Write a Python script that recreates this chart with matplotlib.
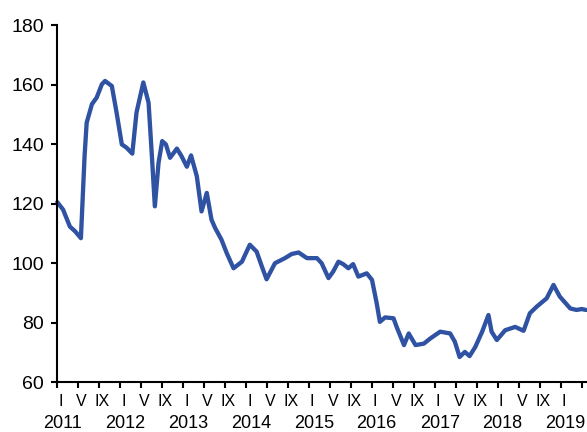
import matplotlib
matplotlib.use("Agg")
import matplotlib.pyplot as plt
from matplotlib.ticker import FixedLocator, NullFormatter

plt.rcParams['font.family'] = ['Liberation Sans', 'DejaVu Sans']

# Time position in months since January 2011, and index value
months = [0.0, 1.1, 2.4, 3.4, 4.5, 5.2, 5.6, 6.6, 7.5, 8.5, 9.1, 10.4, 11.3, 12.3,
          13.2, 14.3, 15.1, 16.4, 17.4, 18.0, 18.6, 19.3, 20.0, 20.7, 21.5, 22.8,
          23.7, 24.7, 25.5, 26.6, 27.5, 28.5, 29.4, 30.1, 31.3, 32.3, 33.6, 35.2,
          36.7, 38.0, 39.0, 39.9, 41.5, 43.4, 44.7, 46.0, 47.6, 49.5, 50.4, 51.7,
          52.6, 53.6, 54.5, 55.5, 56.4, 57.4, 59.0, 60.0, 60.9, 61.5, 62.5, 64.1,
          64.7, 65.3, 66.1, 67.0, 68.3, 69.9, 71.1, 72.0, 73.0, 74.9, 75.8, 76.7,
          77.7, 78.6, 79.7, 81.0, 82.2, 82.8, 83.8, 85.4, 87.3, 88.9, 90.1, 91.4,
          93.3, 94.6, 95.8, 97.8, 99.0, 100.0, 100.8]
values = [120.5, 118.0, 112.3, 110.7, 108.4, 136.0, 147.2, 153.4, 155.6, 160.1, 161.2,
          159.5, 150.6, 139.9, 138.8, 136.8, 150.6, 160.7, 153.9, 137.0, 119.1, 133.7,
          141.0, 139.9, 135.4, 138.5, 135.9, 132.4, 136.2, 129.2, 117.4, 123.6, 114.6,
          111.8, 107.9, 103.4, 98.3, 100.5, 106.2, 103.9, 98.9, 94.6, 100.0, 101.7,
          103.1, 103.6, 101.7, 101.7, 100.0, 95.0, 97.2, 100.5, 99.7, 98.3, 99.7,
          95.5, 96.6, 94.4, 86.5, 80.3, 81.8, 81.5, 78.6, 76.0, 72.5, 76.4, 72.5,
          73.0, 74.7, 75.8, 77.0, 76.4, 73.6, 68.5, 70.2, 68.8, 71.9, 77.0, 82.6,
          77.0, 74.2, 77.5, 78.6, 77.3, 83.2, 85.4, 88.2, 92.7, 88.8, 84.8, 84.3,
          84.6, 84.3]

month_labels = ['I', 'V', 'IX']
years = ['2011', '2012', '2013', '2014', '2015', '2016', '2017', '2018', '2019']
y_ticks = [60, 80, 100, 120, 140, 160, 180]

line_color = '#2F52A3'

fig = plt.figure(figsize=(5.87, 4.32), dpi=100)
ax_h_px = 382.3 - 25
ax = fig.add_axes([57.3 / 587, (432 - 382.3) / 432, (586 - 57.3) / 587, ax_h_px / 432])

ax.plot(months, values, color=line_color, linewidth=3.1, solid_joinstyle='round',
        solid_capstyle='round', clip_on=False)

ax.set_ylim(60, 180)
ax.set_xlim(0, 100.8)
ax.set_yticks(y_ticks)
ax.set_yticklabels([str(v) for v in y_ticks])

# major ticks every 4 months (no labels)
tick_pos = list(range(0, 101, 4))
ax.xaxis.set_major_locator(FixedLocator(tick_pos))
ax.xaxis.set_major_formatter(NullFormatter())
ax.tick_params(axis='x', which='major', length=4.2, width=1.5, direction='out')
ax.tick_params(axis='y', length=4.2, width=1.5, direction='out', labelsize=14, pad=5.5)

trans = ax.get_xaxis_transform()
roman_y = -(401 - 382.3) / ax_h_px
year_y = -(423.5 - 382.3) / ax_h_px
for i, y in enumerate(years):
    for j, ml in enumerate(month_labels):
        m = i * 12 + j * 4
        if m > 96:
            break
        ax.text(m + 0.6, roman_y, ml, transform=trans, ha='center', va='center',
                fontsize=11.5)
    ax.text(i * 12 + 0.9, year_y, y, transform=trans, ha='center', va='center',
            fontsize=13)

for s in ['top', 'right']:
    ax.spines[s].set_visible(False)
for s in ['left', 'bottom']:
    ax.spines[s].set_linewidth(1.5)

fig.savefig('out.png', dpi=100)
